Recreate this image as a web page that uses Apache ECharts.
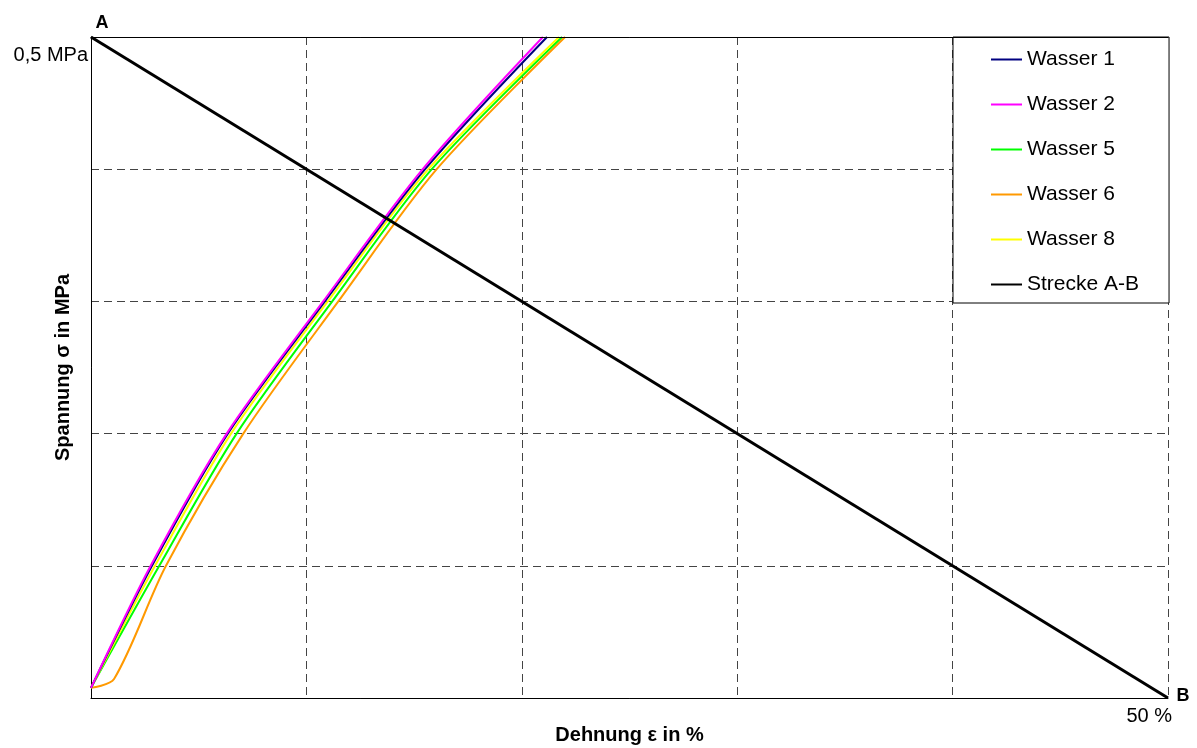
<!DOCTYPE html>
<html>
<head>
<meta charset="utf-8">
<script src="https://cdn.jsdelivr.net/npm/echarts@6/dist/echarts.min.js"></script>
<style>html,body{margin:0;padding:0;background:#fff;}#c{width:1197px;height:748px;}</style>
</head>
<body>
<div id="c"></div>
<script>
// stress levels (MPa) at which strain (%) was read
const stress = [0.0077, 0.1, 0.2, 0.3, 0.4, 0.5];
const wasser1 = [0, 2.83, 6.35, 10.86, 15.51, 21.17];
const wasser2 = [0, 2.77, 6.30, 10.78, 15.40, 20.98];
const wasser5 = [0, 3.17, 6.76, 11.20, 15.82, 21.87];
const wasser8 = [0, 2.97, 6.50, 10.99, 15.66, 21.73];
const stress6 = [0.0077, 0.0144, 0.1, 0.2, 0.3, 0.4, 0.5];
const wasser6 = [0, 1.07, 3.48, 7.07, 11.48, 16.05, 22.01];
const strecke = [[0, 0.5], [50, 0]];
const streckeLabels = ['A', 'B'];
const xTicks = {50: '50 %'};
const yTicks = {0.5: '0,5 MPa'};

const FONT = '"Liberation Sans", Arial, sans-serif';
const FS = 20;
function pairs(xs, ys) { return xs.map((x, i) => [x, ys[i]]); }
function curve(name, xs, ys, color) {
  return { name, type: 'line', data: pairs(xs, ys), symbol: 'none', showSymbol: false, smooth: 0.3,
    lineStyle: { color, width: 2 }, itemStyle: { color }, z: 2 };
}
const chart = echarts.init(document.getElementById('c'));
const gridLine = { show: true, lineStyle: { color: '#444', width: 1, type: [8, 5] } };
const ptLabel = { show: true, fontFamily: FONT, fontSize: 18, fontWeight: 'bold', color: '#000' };
chart.setOption({
  animation: false,
  backgroundColor: '#fff',
  textStyle: { fontFamily: FONT },
  grid: { left: 91, right: 29, top: 37, bottom: 50, containLabel: false, outerBoundsMode: 'none' },
  xAxis: [{
    type: 'value', min: 0, max: 50, interval: 10,
    name: 'Dehnung ε in %', nameLocation: 'middle', nameGap: 27, nameMoveOverlap: false,
    nameTextStyle: { fontFamily: FONT, fontSize: FS, fontWeight: 'bold', color: '#000' },
    axisLine: { show: true, onZero: false, lineStyle: { color: '#000', width: 1 } },
    axisTick: { show: false },
    axisLabel: { formatter: v => xTicks[v] || '', align: 'right', margin: 8, fontFamily: FONT, fontSize: FS, color: '#000', padding: [0, -4, 0, 0] },
    splitLine: gridLine
  }, {
    type: 'value', min: 0, max: 50, position: 'top', z: 10,
    axisLine: { show: true, onZero: false, lineStyle: { color: '#000', width: 1 } },
    axisTick: { show: false }, axisLabel: { show: false }, splitLine: { show: false }
  }],
  yAxis: {
    type: 'value', min: 0, max: 0.5, interval: 0.1,
    name: 'Spannung σ in MPa', nameLocation: 'middle', nameGap: 18, nameMoveOverlap: false,
    nameTextStyle: { fontFamily: FONT, fontSize: FS, fontWeight: 'bold', color: '#000' },
    axisLine: { show: true, onZero: false, lineStyle: { color: '#000', width: 1 } },
    axisTick: { show: false },
    axisLabel: { formatter: v => yTicks[v] || '', verticalAlign: 'top', margin: 3, fontFamily: FONT, fontSize: FS, color: '#000', padding: [8, 0, 0, 0] },
    splitLine: gridLine
  },
  legend: {
    orient: 'vertical', left: 953, top: 37,
    padding: [12, 30, 8, 37],
    itemWidth: 31, itemHeight: 14, itemGap: 24,
    itemStyle: { opacity: 0 },
    backgroundColor: '#fff', borderColor: '#000', borderWidth: 1, borderRadius: 0,
    textStyle: { fontFamily: FONT, fontSize: 21, color: '#000', lineHeight: 21 },
    data: ['Wasser 1', 'Wasser 2', 'Wasser 5', 'Wasser 6', 'Wasser 8', 'Strecke A-B']
  },
  series: [
    curve('Wasser 6', wasser6, stress6, '#FF9900'),
    curve('Wasser 5', wasser5, stress, '#00FF00'),
    curve('Wasser 8', wasser8, stress, '#FFFF00'),
    curve('Wasser 1', wasser1, stress, '#000080'),
    curve('Wasser 2', wasser2, stress, '#FF00FF'),
    {
      name: 'Strecke A-B', type: 'line', symbol: 'none', showSymbol: false, z: 3,
      lineStyle: { color: '#000', width: 3 }, itemStyle: { color: '#000' },
      data: strecke,
      markPoint: {
        symbol: 'circle', symbolSize: 1, itemStyle: { color: 'rgba(0,0,0,0)' },
        silent: true,
        data: [
          { coord: strecke[0], value: streckeLabels[0], label: Object.assign({ position: 'top', offset: [11, 1], formatter: streckeLabels[0] }, ptLabel) },
          { coord: strecke[1], value: streckeLabels[1], label: Object.assign({ position: 'right', offset: [3, -2], formatter: streckeLabels[1] }, ptLabel) }
        ]
      }
    }
  ]
});
</script>
</body>
</html>
